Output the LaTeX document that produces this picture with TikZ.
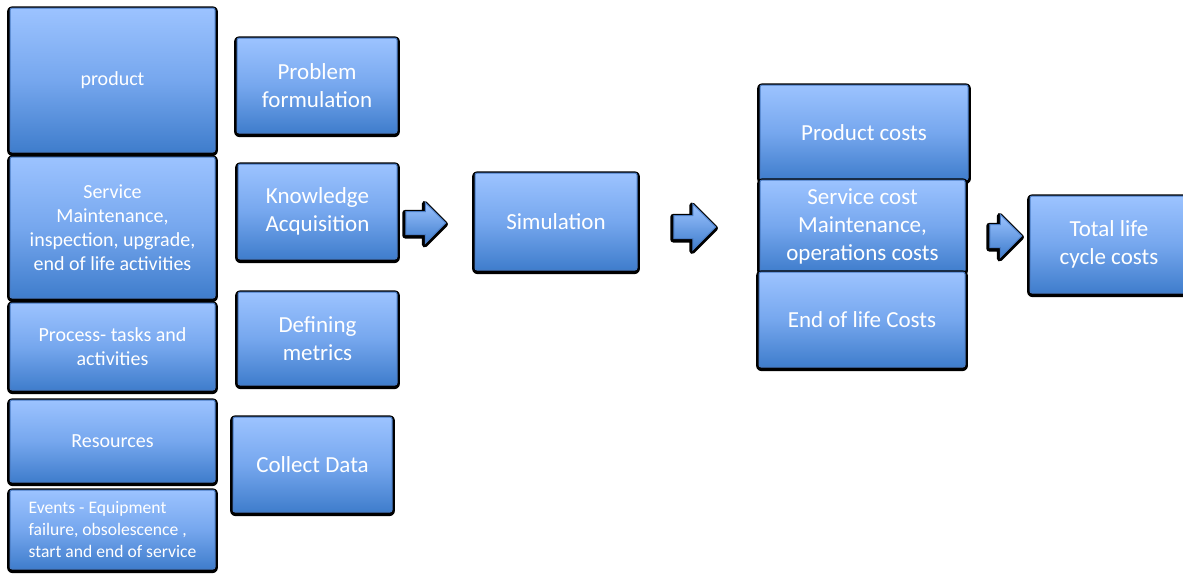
\documentclass[tikz,border=0pt]{standalone}
\usepackage{fontspec}
\setmainfont{Carlito}
\usetikzlibrary{shapes.arrows, positioning}
\definecolor{boxtop}{HTML}{9CC3FF}
\definecolor{boxmid}{HTML}{76A7EE}
\definecolor{boxbottom}{HTML}{3F7DCC}
\definecolor{boxedge}{HTML}{4A7CC4}

\begin{document}
\begin{tikzpicture}[x=0.5pt, y=-0.5pt,
    block/.style={rectangle, rounded corners=1pt, draw=boxedge, line width=0.5pt,
      top color=boxtop, bottom color=boxbottom, middle color=boxmid,
      text=white, align=center, inner sep=2pt, font=\fontsize{11.5}{14}\selectfont,
      preaction={draw=black, fill=black, line width=2.8pt, line join=round, transform canvas={yshift=-0.6pt}}},
    small/.style={font=\fontsize{10}{12}\selectfont},
    tiny/.style={font=\fontsize{8.8}{10.8}\selectfont, align=left},
    flow/.style={single arrow, draw=boxedge, line width=0.5pt, inner xsep=0pt, inner ysep=5.5pt,
      top color=boxtop, bottom color=boxbottom,
      preaction={draw=black, fill=black, line width=2.8pt, line join=round, transform canvas={xshift=-0.3pt, yshift=-0.6pt}}}
]
\useasboundingbox (0,0) rectangle (1183,574);
\clip (0,0) rectangle (1183,574);

% Life cycle inputs
\node[block, small, minimum width=102.5pt, minimum height=72pt] (product) at (112.5,80) {product};
\node[block, small, minimum width=102.5pt, minimum height=70.5pt] (service) at (112.5,227.5) {Service\\Maintenance,\\inspection, upgrade,\\end of life activities};
\node[block, small, minimum width=102.5pt, minimum height=43.5pt] (process) at (112.5,346.5) {Process- tasks and\\activities};
\node[block, small, minimum width=102.5pt, minimum height=41pt] (resources) at (112.5,441) {Resources};
\node[block, tiny, minimum width=102.5pt, minimum height=39.5pt] (events) at (112.5,529.5) {Events - Equipment\\failure, obsolescence ,\\start and end of service};

% Modelling steps
\node[block, minimum width=80pt, minimum height=47.5pt] (problem) at (317,85.5) {Problem\\formulation};
\node[block, minimum width=79.5pt, minimum height=47.5pt] (knowledge) at (317.5,211.5) {Knowledge\\Acquisition};
\node[block, minimum width=79.5pt, minimum height=46.5pt] (metrics) at (317.5,338.5) {Defining\\metrics};
\node[block, minimum width=79.5pt, minimum height=47.5pt] (collect) at (312.5,464.5) {Collect Data};

% Simulation
\node[block, minimum width=81pt, minimum height=48.5pt] (sim) at (556,221.5) {Simulation};

% Cost breakdown
\node[block, minimum width=104pt, minimum height=47.5pt] (prodcost) at (864,132.5) {Product costs};
\node[block, minimum width=102.5pt, minimum height=46pt] (servcost) at (862.5,226) {Service cost\\Maintenance,\\operations costs};
\node[block, minimum width=103pt, minimum height=47.5pt] (eolcost) at (862,319.5) {End of life Costs};

% Result
\node[block, minimum width=79pt, minimum height=48.5pt] (total) at (1109,244.5) {Total life\\cycle costs};

% Arrows
\node[flow, minimum height=20pt, single arrow head extend=4.5pt] (arr1) at (420,223) {};
\node[flow, minimum height=21pt, single arrow head extend=5.75pt] (arr2) at (689,227) {};
\node[flow, minimum height=16pt, single arrow head extend=5pt] (arr3) at (1000,236) {};

\end{tikzpicture}
\end{document}
